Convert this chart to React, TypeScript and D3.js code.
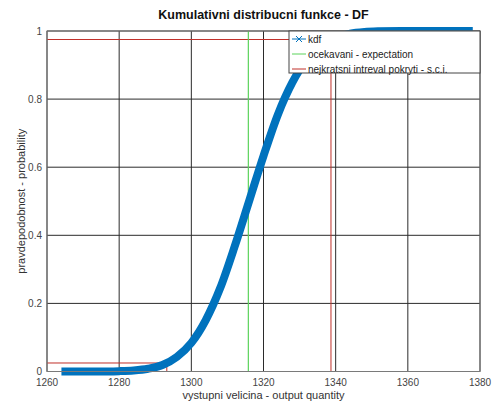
import * as React from 'react';
import * as d3 from 'd3';

// cumulative distribution
const cdfX = [1264, 1268, 1272, 1276, 1280, 1284, 1288, 1292, 1296, 1300, 1304, 1308, 1312, 1316,
  1320, 1324, 1328, 1332, 1336, 1340, 1344, 1348, 1352, 1358, 1364, 1370, 1378];
const cdfY = [0.0, 0.0, 0.0001, 0.0003, 0.001, 0.003, 0.008, 0.019, 0.043, 0.084, 0.151, 0.245, 0.367, 0.5,
  0.633, 0.755, 0.849, 0.916, 0.957, 0.981, 0.992, 0.997, 0.999, 1.0, 1.0, 1.0, 1.0];

const expectation = 1315.8;
const sciLow = 1293.2;
const sciHigh = 1338.7;
const sciProb = [0.025, 0.975];

const xTicks = [1260, 1280, 1300, 1320, 1340, 1360, 1380];
const yTicks = [0, 0.2, 0.4, 0.6, 0.8, 1];

const legendLabels = ['kdf', 'ocekavani - expectation', 'nejkratsni intreval pokryti - s.c.i.'];

const W = 495, H = 403;
const margin = { left: 47, right: 15, top: 31, bottom: 31 };
const FONT = '"Liberation Sans", Arial, sans-serif';
const BLUE = '#0072BD';
const RED = '#C0302A';
const GREEN = '#5BD35B';

export default function App() {
  const x = d3.scaleLinear().domain([1260, 1380]).range([margin.left, W - margin.right]);
  const y = d3.scaleLinear().domain([0, 1]).range([H - margin.bottom - 0.5, margin.top]);

  const pts: [number, number][] = cdfX.map((v, i) => [v, cdfY[i]]);
  const line = d3.line<[number, number]>()
    .x(d => x(d[0]))
    .y(d => y(d[1]))
    .curve(d3.curveMonotoneX);

  const lowLine: [number, number][] = [[1260, sciProb[0]], [sciLow, sciProb[0]], [sciLow, 0]];
  const highLine: [number, number][] = [[1260, sciProb[1]], [sciHigh, sciProb[1]], [sciHigh, 0]];
  const straight = d3.line<[number, number]>().x(d => x(d[0])).y(d => y(d[1]));

  const x0 = x(1260), x1 = x(1380), y0 = y(0), y1 = y(1);
  const lgX = 289, lgY = y1, lgW = x1 - lgX, lgH = 42;

  return (
    <svg width={W} height={H} style={{ position: 'absolute', left: 0, top: 0, background: '#fff' }}
      fontFamily={FONT}>
      <rect x={0} y={0} width={W} height={H} fill="#fff" />
      {/* grid */}
      {xTicks.map(t => (
        <line key={'gx' + t} x1={x(t)} x2={x(t)} y1={y0} y2={y1} stroke="#2b2b2b" strokeWidth={1} />
      ))}
      {yTicks.map(t => (
        <line key={'gy' + t} x1={x0} x2={x1} y1={y(t)} y2={y(t)} stroke="#2b2b2b" strokeWidth={1} />
      ))}
      {/* s.c.i. */}
      <path d={straight(lowLine) || ''} fill="none" stroke={RED} strokeWidth={1} />
      <path d={straight(highLine) || ''} fill="none" stroke={RED} strokeWidth={1} />
      {/* expectation */}
      <line x1={x(expectation)} x2={x(expectation)} y1={y0} y2={y1} stroke={GREEN} strokeWidth={1.2} />
      {/* cdf */}
      <path d={line(pts) || ''} fill="none" stroke={BLUE} strokeWidth={8} strokeLinejoin="round" />
      {/* axes box */}
      <rect x={x0} y={y1} width={x1 - x0} height={y0 - y1} fill="none" stroke="#7a7a7a" strokeWidth={1} />
      {xTicks.map(t => (
        <text key={'tx' + t} x={x(t)} y={y0 + 14} fontSize={10} fill="#444" textAnchor="middle">{t}</text>
      ))}
      {yTicks.map(t => (
        <text key={'ty' + t} x={x0 - 5} y={y(t) + 3.5} fontSize={10} fill="#444" textAnchor="end">{t}</text>
      ))}
      <text x={(x0 + x1) / 2} y={y0 + 27} fontSize={11} fill="#333" textAnchor="middle">
        vystupni velicina - output quantity
      </text>
      <text transform={`translate(25,${(y0 + y1) / 2}) rotate(-90)`} fontSize={11} fill="#333" textAnchor="middle">
        pravdepodobnost - probability
      </text>
      <text x={(x0 + x1) / 2} y={19} fontSize={12.5} fontWeight="bold" fill="#111" textAnchor="middle">
        Kumulativni distribucni funkce - DF
      </text>
      {/* legend */}
      <rect x={lgX} y={lgY} width={lgW} height={lgH} fill="#fff" stroke="#444" strokeWidth={1} />
      {legendLabels.map((lab, i) => {
        const ly = lgY + 8 + i * 15;
        const color = i === 0 ? BLUE : i === 1 ? GREEN : RED;
        return (
          <g key={lab}>
            <line x1={lgX + 3} x2={lgX + 17} y1={ly} y2={ly} stroke={color} strokeWidth={1} />
            {i === 0 && (
              <path d={`M${lgX + 7},${ly - 3}L${lgX + 13},${ly + 3}M${lgX + 7},${ly + 3}L${lgX + 13},${ly - 3}`}
                stroke={color} strokeWidth={1} />
            )}
            <text x={lgX + 19} y={ly + 3.5} fontSize={10} fill="#222">{lab}</text>
          </g>
        );
      })}
    </svg>
  );
}
